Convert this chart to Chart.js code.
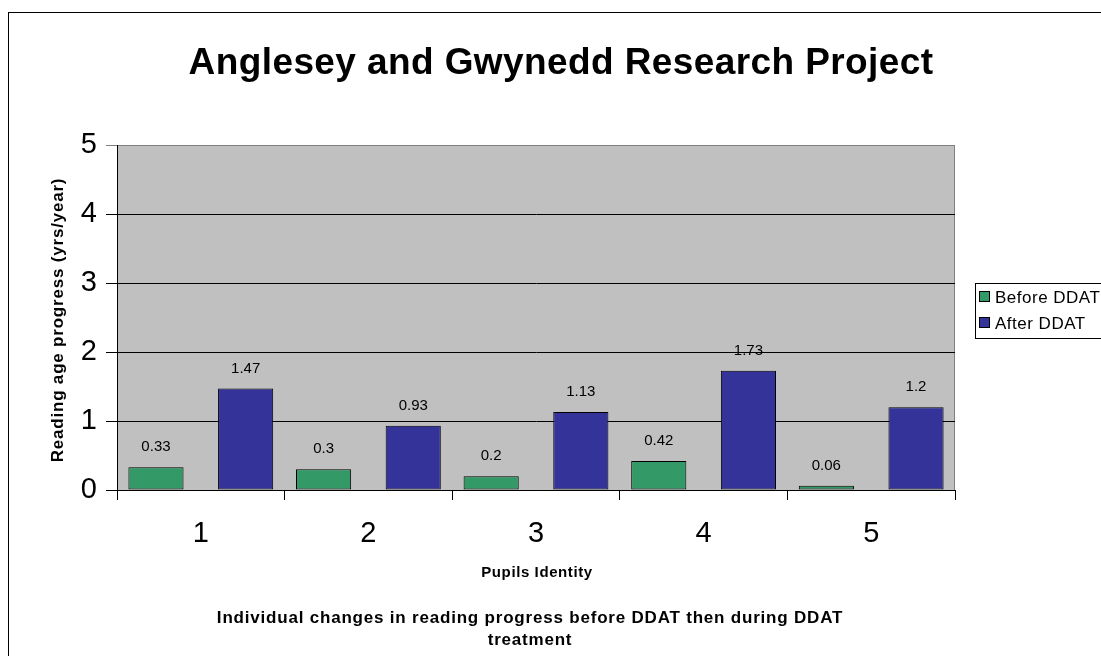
<!DOCTYPE html>
<html>
<head>
<meta charset="utf-8">
<title>Anglesey and Gwynedd Research Project</title>
<script src="https://cdn.jsdelivr.net/npm/chart.js@4.4.1/dist/chart.umd.min.js"></script>
<style>
  html, body { margin: 0; padding: 0; background: #fff; }
  #wrap { position: relative; width: 1101px; height: 656px; }
</style>
</head>
<body>
<div id="wrap"><canvas id="chart" width="1101" height="656"></canvas></div>
<script>
  /* ── Data ─────────────────────────────────────────────────────────────── */

  var pupils      = ['1', '2', '3', '4', '5'];
  var beforeDDAT  = [0.33, 0.3, 0.2, 0.42, 0.06];
  var afterDDAT   = [1.47, 0.93, 1.13, 1.73, 1.2];
  var yTicks      = [0, 1, 2, 3, 4, 5];

  var FONT = 'Arial, "Liberation Sans", Helvetica, sans-serif';

  /* ── Helpers ──────────────────────────────────────────────────────────── */

  function _text(c, str, x, y, font, spacing) {
    c.font = font;
    c.letterSpacing = (spacing || 0) + 'px';
    c.fillText(str, x, y);
    c.letterSpacing = '0px';
  }

  /* ── Plugin: plot background, frame, titles, labels, legend ───────────── */

  var decorPlugin = {
    id: 'decor',
    beforeDraw: function (chart) {
      var c = chart.ctx, a = chart.chartArea;
      c.save();
      // outer frame
      c.strokeStyle = '#000';
      c.lineWidth = 1;
      c.strokeRect(8.5, 12.5, 1200, 700);
      // grey plot area
      c.fillStyle = '#c0c0c0';
      c.fillRect(a.left, a.top, a.right - a.left, a.bottom - a.top);
      c.strokeStyle = '#808080';
      c.strokeRect(a.left + 0.5, a.top + 0.5, a.right - a.left - 1, a.bottom - a.top);

      c.fillStyle = '#000';
      c.textAlign = 'center';
      c.textBaseline = 'middle';
      // chart title
      _text(c, 'Anglesey and Gwynedd Research Project', 561, 64, 'bold 37px ' + FONT, 0.4);
      // x axis title
      _text(c, 'Pupils Identity', 537, 573, 'bold 15px ' + FONT, 0.6);
      // footnote
      _text(c, 'Individual changes in reading progress before DDAT then during DDAT', 530, 618, 'bold 17px ' + FONT, 0.8);
      _text(c, 'treatment', 530, 640, 'bold 17px ' + FONT, 0.8);
      // y axis title
      c.translate(58, 320);
      c.rotate(-Math.PI / 2);
      _text(c, 'Reading age progress (yrs/year)', 0, 0, 'bold 17px ' + FONT, 0.8);
      c.restore();
    },
    afterDatasetsDraw: function (chart) {
      var c = chart.ctx;
      c.save();
      c.fillStyle = '#000';
      c.font = '15px ' + FONT;
      c.textAlign = 'center';
      c.textBaseline = 'middle';
      chart.data.datasets.forEach(function (ds, i) {
        chart.getDatasetMeta(i).data.forEach(function (bar, j) {
          c.fillText(String(ds.data[j]), bar.x, bar.y - 20);
        });
      });

      // legend
      c.strokeStyle = '#000';
      c.lineWidth = 1;
      c.fillStyle = '#fff';
      c.fillRect(975.5, 283.5, 140, 55);
      c.strokeRect(975.5, 283.5, 140, 55);
      c.textAlign = 'left';
      chart.data.datasets.forEach(function (ds, i) {
        var y = 297 + i * 26;
        c.fillStyle = ds.backgroundColor;
        c.fillRect(979.5, y - 5.5, 10, 10);
        c.strokeRect(979.5, y - 5.5, 10, 10);
        c.fillStyle = '#000';
        _text(c, ds.label, 995, y + 1, '17px ' + FONT, 0.5);
      });
      c.restore();
    }
  };

  /* ── Chart ────────────────────────────────────────────────────────────── */

  new Chart(document.getElementById('chart'), {
    type: 'bar',
    data: {
      labels: pupils,
      datasets: [
        {
          label: 'Before DDAT',
          data: beforeDDAT,
          backgroundColor: '#339966',
          borderColor: '#000',
          borderWidth: 1,
          borderSkipped: false,
          categoryPercentage: 1.07,
          barPercentage: 0.615
        },
        {
          label: 'After DDAT',
          data: afterDDAT,
          backgroundColor: '#333399',
          borderColor: '#000',
          borderWidth: 1,
          borderSkipped: false,
          categoryPercentage: 1.07,
          barPercentage: 0.615
        }
      ]
    },
    options: {
      responsive: false,
      animation: false,
      events: [],
      layout: { padding: { top: 145, right: 146, bottom: 66, left: 0 } },
      plugins: {
        legend: { display: false },
        tooltip: { enabled: false }
      },
      scales: {
        x: {
          afterFit: function (s) { s.height = 100; },
          grid: {
            offset: true,
            drawOnChartArea: false,
            color: '#000',
            tickLength: 10
          },
          border: { color: '#000', width: 1 },
          ticks: {
            color: '#000',
            padding: 17,
            font: { family: FONT, size: 29 }
          }
        },
        y: {
          min: 0,
          max: 5,
          afterFit: function (s) { s.width = 117; },
          afterBuildTicks: function (s) {
            s.ticks = yTicks.map(function (v) { return { value: v }; });
          },
          grid: {
            color: function (ctx) {
              return ctx.tick && ctx.tick.value === 5 ? '#808080' : '#000';
            },
            tickLength: 11
          },
          border: { color: '#000', width: 1 },
          ticks: {
            color: '#000',
            padding: 9,
            font: { family: FONT, size: 29 }
          }
        }
      }
    },
    plugins: [decorPlugin]
  });
</script>
</body>
</html>
